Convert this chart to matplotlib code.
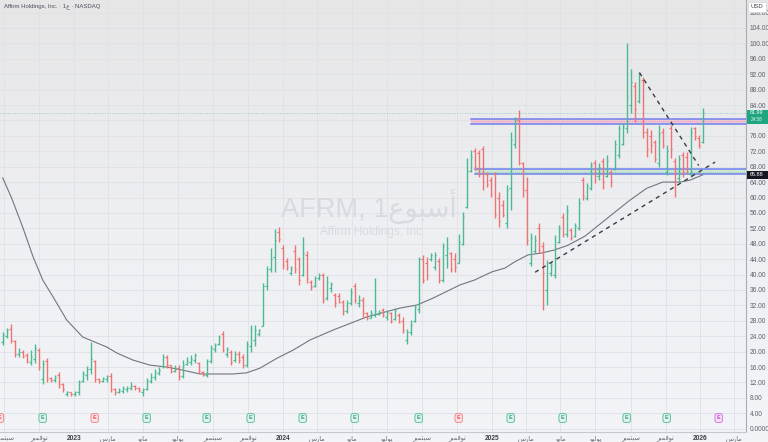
import numpy as np
import pandas as pd
import matplotlib
matplotlib.use('Agg')
import matplotlib.pyplot as plt
import matplotlib.dates as mdates
from matplotlib.patches import Rectangle
from matplotlib import transforms
from matplotlib.colors import LinearSegmentedColormap

plt.rcParams['font.family'] = ['Liberation Sans', 'DejaVu Sans']

# ---------------- data (weekly OHLC) ----------------
start_date = '2022-08-29'
opens = [22.5, 24.0, 26.0, 22.8, 19.3, 20.0, 19.0, 17.3, 18.0, 20.5,
         13.0, 17.5, 13.2, 12.6, 14.0, 11.5, 9.0, 9.4, 8.9, 9.5,
         12.3, 14.0, 15.6, 17.5, 12.9, 12.5, 12.9, 13.7, 10.2, 9.4,
         9.8, 10.3, 10.5, 11.2, 10.6, 9.5, 10.2, 12.4, 13.5, 14.5,
         16.2, 18.6, 16.4, 15.0, 15.8, 13.8, 16.8, 17.3, 17.8, 17.0,
         14.8, 14.0, 17.5, 20.8, 22.0, 24.5, 19.5, 20.0, 17.8, 19.5,
         18.5, 16.5, 21.5, 23.0, 24.5, 26.7, 37.0, 41.5, 44.5, 51.0,
         47.0, 43.5, 40.5, 46.0, 44.0, 40.0, 45.0, 38.2, 37.0, 39.0,
         39.8, 33.8, 36.5, 34.8, 34.5, 33.0, 30.5, 32.5, 37.0, 32.5,
         33.5, 30.0, 28.8, 29.5, 29.8, 30.8, 29.0, 30.0, 28.5, 29.5,
         28.0, 23.0, 25.0, 28.0, 31.0, 44.0, 43.0, 44.0, 42.0, 43.5,
         38.5, 45.0, 45.5, 44.0, 43.0, 48.0, 57.5, 67.0, 72.0, 71.5,
         72.5, 66.0, 64.5, 66.0, 60.0, 58.0, 53.5, 62.5, 74.0, 80.0,
         69.0, 62.0, 43.0, 46.0, 52.0, 47.5, 36.0, 40.5, 40.0, 48.5,
         55.0, 50.5, 51.5, 50.0, 52.0, 64.5, 60.0, 62.5, 69.0, 65.5,
         69.5, 65.5, 66.5, 67.5, 71.0, 74.0, 78.0, 84.0, 89.0, 85.0,
         90.5, 77.0, 76.0, 74.5, 69.0, 77.0, 66.5, 78.0, 69.5, 65.0,
         71.0, 70.5, 66.0, 78.0, 75.5, 74.5]
highs = [25.2, 26.1, 27.2, 23.0, 20.9, 20.4, 19.7, 20.4, 22.0, 20.9,
         17.8, 18.3, 13.5, 13.9, 14.8, 11.8, 9.9, 9.6, 9.9, 12.6,
         15.1, 16.3, 22.6, 17.8, 13.1, 13.5, 13.9, 14.4, 10.5, 10.5,
         11.1, 11.1, 12.0, 11.3, 10.7, 10.5, 13.1, 14.4, 15.4, 15.9,
         19.4, 19.1, 16.5, 16.4, 16.4, 17.8, 18.7, 19.1, 19.6, 17.4,
         15.0, 18.1, 21.7, 22.3, 24.3, 25.4, 21.3, 20.4, 20.2, 20.2,
         19.3, 22.8, 26.9, 26.9, 26.0, 37.7, 42.1, 46.8, 51.8, 52.4,
         47.8, 44.4, 42.3, 47.7, 44.5, 49.8, 46.0, 38.6, 39.5, 40.3,
         40.3, 39.5, 38.2, 35.1, 35.1, 33.4, 33.4, 36.4, 37.7, 34.7,
         34.3, 30.4, 30.8, 39.0, 30.8, 31.2, 30.8, 30.4, 31.2, 29.9,
         29.1, 26.0, 28.2, 32.1, 44.6, 45.1, 44.6, 45.5, 45.9, 44.2,
         48.1, 49.8, 45.9, 45.5, 50.5, 56.3, 70.2, 72.3, 72.8, 72.3,
         73.4, 66.7, 65.4, 66.7, 61.5, 59.4, 63.2, 77.1, 81.0, 82.7,
         69.3, 65.4, 50.7, 50.3, 53.3, 48.5, 43.8, 43.3, 50.3, 52.9,
         55.9, 58.1, 52.0, 53.3, 59.8, 65.4, 63.7, 69.3, 69.7, 68.9,
         70.2, 71.0, 67.2, 75.0, 78.8, 79.3, 100.0, 93.3, 90.1, 92.7,
         91.4, 78.0, 77.5, 75.0, 78.8, 78.0, 73.6, 78.8, 70.2, 71.0,
         71.9, 71.7, 78.4, 78.4, 76.2, 83.2]
lows = [21.7, 23.5, 22.2, 18.7, 18.7, 18.3, 17.0, 16.5, 17.0, 15.2,
        11.6, 12.2, 12.2, 12.2, 10.5, 9.6, 8.5, 8.5, 8.5, 8.75,
        12.0, 12.6, 14.2, 12.2, 11.8, 12.2, 12.2, 9.6, 8.75, 9.2,
        9.2, 9.6, 10.0, 10.0, 9.6, 8.5, 10.0, 11.8, 12.6, 13.9,
        15.8, 15.8, 14.4, 14.6, 12.6, 13.1, 16.5, 16.5, 17.0, 14.4,
        13.8, 13.5, 17.0, 20.0, 21.7, 19.8, 18.7, 16.5, 17.4, 17.0,
        15.7, 16.1, 20.0, 21.5, 24.1, 26.7, 36.0, 40.6, 40.6, 48.5,
        41.4, 41.2, 39.9, 40.3, 37.3, 39.5, 37.7, 36.0, 36.9, 38.6,
        32.5, 33.4, 35.6, 31.7, 32.5, 29.5, 29.9, 32.1, 32.5, 31.7,
        29.1, 28.2, 28.6, 29.1, 29.5, 29.1, 28.2, 27.3, 28.2, 27.3,
        24.8, 22.0, 24.3, 27.8, 29.9, 37.7, 38.6, 43.4, 41.2, 37.7,
        38.2, 41.6, 40.7, 40.7, 42.9, 47.7, 57.2, 66.7, 67.1, 65.4,
        61.9, 62.8, 60.2, 54.6, 52.4, 54.9, 52.0, 56.7, 72.8, 68.4,
        60.2, 47.7, 42.1, 45.5, 45.5, 30.8, 32.1, 39.5, 39.0, 48.1,
        49.8, 49.8, 49.0, 49.8, 51.6, 59.4, 59.4, 62.0, 63.7, 64.6,
        62.1, 65.4, 62.8, 67.2, 70.2, 73.6, 76.7, 81.9, 79.7, 84.5,
        75.4, 70.6, 71.5, 69.3, 68.0, 72.8, 65.9, 70.2, 60.2, 64.1,
        65.4, 66.3, 65.4, 75.0, 72.8, 74.1]
closes = [24.3, 25.5, 23.0, 19.5, 19.8, 18.8, 17.5, 18.5, 21.0, 16.0,
          16.8, 13.0, 12.6, 13.4, 11.5, 10.3, 9.5, 8.9, 9.6, 12.0,
          14.2, 15.6, 18.0, 13.0, 12.3, 13.2, 13.6, 10.4, 9.4, 10.0,
          10.6, 10.5, 11.2, 10.6, 10.0, 10.2, 12.5, 13.5, 14.8, 15.3,
          18.5, 16.5, 15.0, 15.6, 13.8, 16.5, 17.6, 18.0, 19.2, 15.0,
          14.0, 17.5, 21.0, 21.8, 23.8, 20.5, 20.8, 17.2, 19.5, 17.8,
          16.5, 22.0, 26.0, 25.5, 25.5, 37.0, 41.5, 44.0, 49.0, 49.2,
          42.5, 42.0, 41.7, 41.5, 38.5, 45.5, 39.0, 36.8, 39.0, 39.8,
          33.5, 38.0, 37.5, 32.5, 33.0, 30.5, 32.5, 35.5, 33.5, 33.5,
          30.0, 28.8, 30.0, 30.5, 30.4, 29.6, 30.3, 28.0, 30.8, 27.8,
          25.5, 25.0, 27.0, 31.5, 44.0, 38.5, 40.0, 45.0, 45.0, 38.5,
          47.5, 47.0, 41.5, 42.0, 48.5, 55.0, 67.0, 70.5, 68.0, 66.0,
          64.0, 63.5, 61.0, 55.5, 54.0, 55.5, 62.0, 75.0, 80.0, 69.0,
          62.0, 49.0, 49.5, 49.0, 46.5, 40.5, 43.0, 42.5, 47.0, 52.0,
          50.5, 56.5, 49.5, 52.5, 58.5, 60.5, 63.0, 68.5, 65.5, 68.0,
          64.0, 69.5, 64.0, 74.0, 78.0, 78.5, 86.0, 90.0, 83.0, 92.0,
          77.0, 72.5, 73.5, 70.0, 76.5, 73.5, 72.0, 72.5, 66.0, 70.0,
          66.5, 67.5, 77.0, 76.0, 73.5, 81.99]

# moving average (read at sample bars)
ma_bars = [0, 2.25, 5, 7.6, 10, 12.6, 16, 20, 26, 28.6, 32.6, 36.8, 41, 45,
           49.3, 53.6, 57.6, 61, 64.3, 68.6, 72.6, 76.8, 82.6, 91, 99.3,
           103.6, 107.6, 114.3, 118, 122.3, 125.6, 128, 131.3, 134.8, 138,
           141.3, 145.6, 151, 156.8, 161, 165, 169.3, 171.8, 175]
ma_values = [65.1, 59.8, 52.3, 44.6, 38.6, 34.2, 28.2, 23.8, 21.2, 19.6,
             17.8, 16.5, 16.0, 15.2, 14.2, 14.2, 14.2, 14.5, 15.7, 18.3,
             20.4, 23.0, 25.6, 29.0, 31.3, 32.1, 33.9, 37.3, 38.6, 40.7,
             41.7, 43.3, 45.1, 45.6, 46.4, 47.6, 50.0, 54.5, 59.3, 62.4,
             64.0, 64.0, 64.5, 65.88]

last_price = 81.99
ma_last = 65.88
countdown = '24:58'

zone_upper = (79.0, 80.5)
zone_upper_start = 117
zone_lower = (66.0, 67.3)
zone_lower_start = 118

trend_down = [(159.2, 92.4), (174.0, 68.3)]
trend_up = [(133.1, 40.6), (178.1, 69.2)]

earn_bars = [-0.7, 10, 23, 36, 51, 62, 75, 88, 104, 114, 127, 140, 156, 166, 179]
earn_kind = ['miss', 'beat', 'miss', 'beat', 'beat', 'beat', 'beat', 'beat',
             'beat', 'miss', 'beat', 'beat', 'beat', 'beat', 'future']

price_ticks = list(range(0, 112, 4))
hidden_ticks = [80]   # covered by the last-price label in the reference
month_names = {9: 'سبتمبر', 11: 'نوفمبر', 3: 'مارس', 5: 'مايو', 7: 'يوليو'}

title = 'Affirm Holdings, Inc. · 1ع · NASDAQ'
watermark = 'AFRM, 1أسبوع'
watermark_sub = 'Affirm Holdings, Inc'

# ---------------- Arabic shaping helper ----------------
AR_FORMS = {
    'ا': ('\uFE8D', '\uFE8E', None, None),
    'أ': ('\uFE83', '\uFE84', None, None),
    'ر': ('\uFEAD', '\uFEAE', None, None),
    'و': ('\uFEED', '\uFEEE', None, None),
    'س': ('\uFEB1', '\uFEB2', '\uFEB3', '\uFEB4'),
    'ب': ('\uFE8F', '\uFE90', '\uFE91', '\uFE92'),
    'ت': ('\uFE95', '\uFE96', '\uFE97', '\uFE98'),
    'م': ('\uFEE1', '\uFEE2', '\uFEE3', '\uFEE4'),
    'ن': ('\uFEE5', '\uFEE6', '\uFEE7', '\uFEE8'),
    'ف': ('\uFED1', '\uFED2', '\uFED3', '\uFED4'),
    'ي': ('\uFEF1', '\uFEF2', '\uFEF3', '\uFEF4'),
    'ل': ('\uFEDD', '\uFEDE', '\uFEDF', '\uFEE0'),
    'ع': ('\uFEC9', '\uFECA', '\uFECB', '\uFECC'),
}


def ar(text):
    out, run = [], []

    def flush():
        n = len(run)
        shaped = []
        for k, ch in enumerate(run):
            f = AR_FORMS[ch]
            pj = k > 0 and AR_FORMS[run[k - 1]][2] is not None
            nj = k < n - 1 and f[2] is not None
            if pj and nj:
                g = f[3]
            elif pj:
                g = f[1]
            elif nj:
                g = f[2]
            else:
                g = f[0]
            shaped.append(g)
        out.extend(reversed(shaped))
        run.clear()

    for ch in text:
        if ch in AR_FORMS:
            run.append(ch)
        else:
            if run:
                flush()
            out.append(ch)
    if run:
        flush()
    return ''.join(out)


# ---------------- figure ----------------
W, H = 768, 442
fig = plt.figure(figsize=(W / 100, H / 100), dpi=100)

bg = fig.add_axes([0, 0, 1, 1], zorder=-10)
grad = np.linspace(0, 1, 256).reshape(-1, 1)
cmap = LinearSegmentedColormap.from_list('bg', ['#e6e6e7', '#eeeff2', '#f2f4f7'])
bg.imshow(grad, aspect='auto', cmap=cmap, extent=[0, 1, 0, 1])
bg.axis('off')

ax_left, ax_right, ax_top, ax_bot = 0, 745.5, 0, 431.5
ax = fig.add_axes([ax_left / W, (H - ax_bot) / H, (ax_right - ax_left) / W, (ax_bot - ax_top) / H])
ax.set_facecolor('none')

base = mdates.date2num(pd.Timestamp(start_date))
n = len(opens)
bx = base + 7 * np.arange(n)


def b2x(b):
    return base + 7 * np.asarray(b, dtype=float)


ax.set_xlim(b2x(-0.675), b2x(185.7))
ax.set_ylim(-0.73, 111.26)

# grid
tick_months = pd.date_range('2022-09-01', '2026-03-01', freq='2MS')
tick_x = mdates.date2num(tick_months)
for t in tick_x:
    ax.axvline(t, color='#dfe1e6', lw=0.6, zorder=0)
for p in price_ticks:
    ax.axhline(p, color='#dfe1e6', lw=0.6, zorder=0)

# price line
ax.axhline(last_price, color='#93d3be', lw=0.7, ls=(0, (1, 1.5)), zorder=1)

# zones
xr = b2x(190)
for (lo, hi), sb, fc, mc in [(zone_upper, zone_upper_start, '#f0c3d2', '#e58fab'),
                             (zone_lower, zone_lower_start, '#c9e6d1', '#86c49c')]:
    x0 = b2x(sb)
    ax.add_patch(Rectangle((x0, lo), xr - x0, hi - lo, facecolor=fc, edgecolor='none', alpha=0.9, zorder=1))
    ax.plot([x0, xr], [hi, hi], color='#6f80ef', lw=1.1, zorder=2)
    ax.plot([x0, xr], [lo, lo], color='#6f80ef', lw=1.1, zorder=2)
    ax.plot([x0, xr], [(lo + hi) / 2] * 2, color=mc, lw=0.6, ls=(0, (1, 1.5)), zorder=2)

# MA
ax.plot(b2x(ma_bars), ma_values, color='#727580', lw=0.8, zorder=3)

# OHLC bars
o = np.array(opens); h = np.array(highs); l = np.array(lows); c = np.array(closes)
up = c >= o
cols = np.where(up, '#4cb894', '#ee7373')
tk = 2.3
ax.vlines(bx, l, h, colors=cols, lw=1.0, zorder=4)
ax.hlines(o, bx - tk, bx, colors=cols, lw=0.9, zorder=4)
ax.hlines(c, bx, bx + tk, colors=cols, lw=0.9, zorder=4)

# trend lines
for seg in (trend_down, trend_up):
    ax.plot(b2x([seg[0][0], seg[1][0]]), [seg[0][1], seg[1][1]], color='#3a3b40',
            lw=1.0, ls=(0, (3, 3)), zorder=5)

# watermark
wfam = ['Liberation Sans', 'DejaVu Sans']
ax.text(0.495, 0.497, ar(watermark), transform=ax.transAxes, ha='center', va='baseline',
        fontsize=19.5, color='#d9dadf', family=wfam, zorder=0.5)
ax.text(0.497, 0.455, watermark_sub, transform=ax.transAxes, ha='center', va='baseline',
        fontsize=8.5, color='#d9dadf', family=wfam, zorder=0.5)

# earnings badges
ecol = {'beat': ('#e1f3ec', '#5fc2a2', '#35a07f'),
        'miss': ('#fbe2e4', '#f08c92', '#e2545c'),
        'future': ('#f5e0f8', '#d879e4', '#c24fd0')}
tr_e = transforms.blended_transform_factory(ax.transData, ax.transAxes)
for eb, k in zip(earn_bars, earn_kind):
    fc, ec, tc = ecol[k]
    ax.text(b2x(eb), 0.0313, 'E', transform=tr_e, ha='center', va='center', fontsize=4,
            color=tc, fontweight='bold', zorder=6, clip_on=True,
            bbox=dict(boxstyle='round,pad=0.35,rounding_size=0.4', fc=fc, ec=ec, lw=0.7))

# axes styling
for s in ['top', 'left']:
    ax.spines[s].set_visible(False)
ax.spines['right'].set_color('#a9acb5')
ax.spines['bottom'].set_color('#c5c8cf')
ax.spines['right'].set_linewidth(0.8)
ax.spines['bottom'].set_linewidth(0.8)

ax.yaxis.tick_right()
ax.set_yticks(price_ticks)
ax.set_yticklabels(['' if p in hidden_ticks else ('0.0000' if p == 0 else f'{p:.2f}')
                    for p in price_ticks])
ax.tick_params(axis='y', length=0, pad=3, labelsize=4.8, labelcolor='#5e616c')

ax.set_xticks(tick_x)
labels = []
for d in tick_months:
    labels.append(str(d.year) if d.month == 1 else ar(month_names[d.month]))
ax.set_xticklabels(labels)
ax.tick_params(axis='x', length=0, pad=2.5, labelsize=4.8, labelcolor='#6a6d78')
for lab, d in zip(ax.get_xticklabels(), tick_months):
    if d.month == 1:
        lab.set_fontweight('bold')
        lab.set_color('#3c3f48')

# title
fig.text(4 / W, 1 - 6 / H, ar(title), ha='left', va='center', fontsize=4.3, color='#4b4e58')

# right-side price labels
trf = transforms.blended_transform_factory(fig.transFigure, ax.transData)
px = 1 / 3.853
bx0, bw = 746.5 / W, 21 / W
ax.add_patch(Rectangle((bx0, last_price - 11 * px), bw, 14 * px, transform=trf,
                       facecolor='#1fa57f', edgecolor='none', clip_on=False, zorder=10))
ax.text(bx0 + bw / 2, last_price + 0.2 * px, f'{last_price:.2f}', transform=trf, ha='center', va='center',
        fontsize=3.8, color='white', clip_on=False, zorder=11)
ax.text(bx0 + bw / 2, last_price - 6.6 * px, countdown, transform=trf, ha='center', va='center',
        fontsize=3.3, color='#e8f6f0', clip_on=False, zorder=11)
ax.add_patch(Rectangle((bx0, ma_last - 4 * px), bw, 8 * px, transform=trf,
                       facecolor='#131722', edgecolor='none', clip_on=False, zorder=10))
ax.text(bx0 + bw / 2, ma_last, f'{ma_last:.2f}', transform=trf, ha='center', va='center',
        fontsize=4.0, color='white', clip_on=False, zorder=11)

# USD box
fig.patches.append(Rectangle((748 / W, 1 - 12 / H), 18 / W, 10 / H, transform=fig.transFigure,
                             facecolor='white', edgecolor='#d4d6dc', lw=0.5, zorder=10))
fig.text(757 / W, 1 - 7 / H, 'USD', ha='center', va='center', fontsize=4.3, color='#3c3f48', zorder=11)

fig.savefig('out.png', dpi=100)
